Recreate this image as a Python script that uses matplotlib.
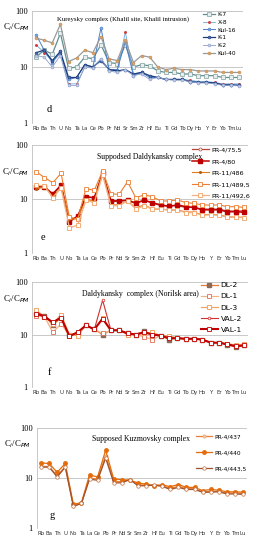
import numpy as np
import matplotlib
matplotlib.use('Agg')
import matplotlib.pyplot as plt

# element order along the x axis
elements = ['Rb', 'Ba', 'Th', 'U', 'Nb', 'Ta', 'La', 'Ce', 'Pb', 'Pr', 'Nd', 'Sr', 'Sm',
            'Zr', 'Hf', 'Eu', 'Ti', 'Gd', 'Tb', 'Dy', 'Ho', 'Y', 'Er', 'Yb', 'Tm', 'Lu']

# panel d - Kureysky complex
k7    = [15, 20, 17, 40, 9.5, 10, 15, 14, 25, 12, 11.5, 25, 10, 11, 10.5, 8.5, 8, 8, 7.5, 7.5, 7, 7, 7, 6.5, 6.5, 6.5]
k8    = [25, 18, 13, 19, 5, 5, 10, 10, 14, 9, 8.5, 42, 7.5, 8, 7, 6.5, 6, 6, 6, 5.8, 5.5, 5.5, 5.3, 5, 5, 5]
kul16 = [38, 20, 12, 18, 6, 6.5, 11, 10, 50, 9, 9, 28, 7, 8, 6.5, 6.5, 6, 6, 6, 5.5, 5.3, 5.3, 5.2, 4.8, 4.8, 4.7]
k1    = [18, 20, 13, 19, 6.5, 6.5, 11, 10, 13, 9, 8.5, 9, 7.5, 8, 7, 6.5, 6, 6, 6, 5.5, 5.3, 5.3, 5.2, 4.8, 4.8, 4.7]
k2    = [16, 15, 10, 16, 4.7, 4.7, 10, 9.5, 14, 8.5, 8, 9, 7, 7.5, 6, 6.5, 6, 5.8, 5.8, 5.5, 5.2, 5.2, 5, 4.7, 4.7, 4.6]
kul40 = [33, 30, 27, 58, 12.5, 14.5, 20, 18, 35, 14, 13, 30, 12, 16, 15, 10, 9, 9.5, 9, 9, 8.5, 8.5, 8.5, 8, 8, 8]

# panel e - supposed Daldykansky complex
pr4_755   = [17, 17, 12, 18, 4, 4.8, 11, 10.5, 30, 9, 9, 9.5, 8.5, 9.5, 8.5, 7.5, 7.5, 7.5, 7, 7, 6.5, 6.5, 6.5, 6, 6, 6]
pr4_80    = [17, 16.5, 12.5, 18, 3.8, 4.8, 11, 10.5, 30, 9.2, 9.3, 9.5, 8.3, 9.5, 8.5, 7.8, 7.3, 7.8, 7.2, 7, 6.3, 6.3, 6.3, 5.8, 5.8, 5.7]
pr11_486  = [15, 17, 11, 16.5, 4.2, 4.3, 10, 9, 30, 7.8, 7.8, 9.2, 6.8, 7.8, 6.5, 6.5, 6.3, 6.2, 5.8, 5.7, 5.1, 5.2, 5.1, 4.7, 4.6, 4.6]
pr11_4895 = [32, 25, 20, 30, 4.6, 4.3, 15.5, 14.5, 33, 12.5, 12.2, 21, 10.5, 12, 11, 9.2, 9.2, 9.6, 8.6, 8.3, 7.8, 7.7, 7.8, 7.2, 7.2, 7]
pr11_4926 = [18, 17.5, 10.5, 16, 2.9, 3.3, 9.5, 8.5, 28, 7.5, 7.5, 9.3, 6.5, 7.5, 6.5, 6.5, 6.2, 6.2, 5.6, 5.6, 5, 5.1, 5, 4.6, 4.6, 4.5]

# panel f - Daldykansky complex (Norilsk area)
dl2  = [25, 23, 15, 21, 9.8, 10.5, 15, 12.5, 10, 12, 12, 10.5, 10, 11.5, 10, 9.5, 8, 8.5, 8.2, 8.3, 8, 7, 7, 6.4, 5.8, 6.2]
dl1  = [23, 22, 11, 16, 9.5, 10.5, 15, 12.5, 10.5, 12, 12, 10.5, 10, 9, 8, 9.5, 8.5, 8.5, 8.3, 8.3, 8, 7, 7, 6.5, 6, 6.3]
dl3  = [29, 22, 16, 24, 10, 9.5, 15, 12.5, 21, 12, 12, 10, 10, 10.5, 11, 9.5, 9.5, 8.5, 8.3, 8.3, 8, 7, 7, 6.7, 6.3, 6.5]
val2 = [26, 23, 17, 21, 9.5, 11, 15, 12.5, 45, 12, 12, 10.5, 10, 11, 10, 9.5, 8.5, 8.5, 8.3, 8.3, 8, 7, 7, 6.5, 6, 6.2]
val1 = [25, 22, 17, 21, 9.3, 11, 15, 12.5, 20, 12, 12, 10.5, 10, 11, 10, 9.5, 8.5, 8.5, 8.3, 8.3, 8, 7, 7, 6.5, 6, 6.2]

# panel g - supposed Kuzmovsky complex
pr4_437  = [17, 17, 11, 17, 2.8, 3.1, 10, 9.5, 28, 8.5, 8.5, 9.3, 7.3, 7.2, 7.3, 7, 6.2, 6.8, 6.1, 6.1, 5.3, 5.4, 5.4, 5, 5, 4.9]
pr4_440  = [20, 19.5, 13, 19.5, 3, 3.2, 11.5, 10.5, 36, 9.5, 9.3, 9, 8, 7.5, 7, 7.3, 6.7, 7.4, 6.5, 6.5, 5.6, 5.9, 5.7, 5.3, 5.3, 5.2]
pr4_4435 = [16.5, 16.5, 10.5, 16.5, 2.7, 3.1, 9.5, 9, 25, 8, 8, 9.3, 7, 7, 7.2, 6.8, 5.9, 6.5, 5.9, 5.9, 5.2, 5.2, 5.3, 4.8, 4.8, 4.7]

serif = 'Liberation Serif'
x = np.arange(len(elements))

fig = plt.figure(figsize=(2.58, 5.5), dpi=100)


def setup(ax, title, tx, ty, letter, lx, ly, tsize=5.6):
    ax.set_yscale('log')
    ax.set_ylim(1, 100)
    ax.set_xlim(-0.5, 25.5)
    ax.set_yticks([1, 10, 100])
    ax.set_yticklabels(['1', '10', '100'], fontsize=6, family=serif)
    ax.yaxis.set_minor_locator(matplotlib.ticker.NullLocator())
    ax.set_xticks(x)
    ax.set_xticklabels(elements, fontsize=3.9, family='DejaVu Sans', color='#333333')
    ax.tick_params(length=0, pad=2.5)
    ax.tick_params(axis='y', pad=3)
    for s in ['top', 'right', 'bottom']:
        ax.spines[s].set_visible(False)
    ax.spines['left'].set_color('#bfbfbf')
    ax.spines['left'].set_linewidth(0.6)
    for v in [10, 100]:
        ax.axhline(v, color='#bfbfbf', lw=0.6, zorder=0)
    ax.text(tx, ty, title, transform=ax.transAxes, fontsize=tsize, family=serif, ha='left', va='center')
    ax.text(lx, ly, letter, transform=ax.transAxes, fontsize=7.5, family=serif, ha='left', va='center')


def ylab(px, py):
    fig.text(px / 258, 1 - py / 550, r'C$_i$/C$_{PM}$', fontsize=6.3, family=serif, ha='left', va='center')


# ---- panel d
ax = fig.add_axes([32 / 258, 1 - 123 / 550, 211 / 258, 112 / 550])
setup(ax, 'Kureysky complex (Khalil site, Khalil intrusion)', 0.12, 0.93, 'd', 0.07, 0.12, tsize=4.9)
ax.plot(x, k7, color='#5f8f90', marker='s', ms=2.4, mfc='#e8eeee', mec='#7f9f9f', mew=0.5, lw=0.9, label='K-7')
ax.plot(x, k8, color='#6fa8dc', marker='.', ms=2.3, mfc='#d04040', mec='#d04040', lw=0.6, label='X-8')
ax.plot(x, kul16, color='#4a7fc8', marker='o', ms=2.1, mfc='#7ea6e0', mec='#4a7fc8', mew=0.4, lw=0.7, label='Kul-16')
ax.plot(x, k1, color='#1f3b78', marker='o', ms=2.1, mfc='#4c6eb5', mec='#1f3b78', mew=0.4, lw=0.9, label='K-1')
ax.plot(x, k2, color='#8a9fc9', marker='o', ms=2.1, mfc='#c3cbe9', mec='#8a9fc9', mew=0.4, lw=0.6, label='K-2')
ax.plot(x, kul40, color='#9a9a9a', marker='o', ms=2.1, mfc='#d9a36a', mec='#c58d55', mew=0.4, lw=0.9, label='Kul-40')
ax.legend(loc='upper left', bbox_to_anchor=(203 / 258, 1 - 12 / 550), bbox_transform=fig.transFigure,
          frameon=False, fontsize=4.2, handlelength=2.0, handletextpad=0.5, labelspacing=0.45,
          borderaxespad=0, borderpad=0)
ylab(3, 27)

# ---- panel e
ax = fig.add_axes([32 / 258, 1 - 253 / 550, 216 / 258, 108 / 550])
setup(ax, 'Suppodsed Daldykansky complex', 0.30, 0.89, 'e', 0.04, 0.14)
ax.plot(x, pr4_755, color='#b5473a', marker='o', ms=2.2, mfc='white', mec='#b5473a', mew=0.5, lw=0.9, label='PR-4/75,5')
ax.plot(x, pr4_80, color='#c00000', marker='s', ms=2.5, mfc='#c00000', mec='#c00000', lw=1.1, label='PR-4/80')
ax.plot(x, pr11_486, color='#e07b1a', marker='.', ms=2.4, mfc='#b06010', mec='#b06010', lw=0.8, label='PR-11/486')
ax.plot(x, pr11_4895, color='#ed7d31', marker='s', ms=3.0, mfc='white', mec='#ed7d31', mew=0.6, lw=0.8, label='PR-11/489,5')
ax.plot(x, pr11_4926, color='#f4b183', marker='s', ms=2.8, mfc='white', mec='#f4a060', mew=0.6, lw=0.9, label='PR-11/492,6')
ax.legend(loc='upper left', bbox_to_anchor=(192 / 258, 1 - 147 / 550), bbox_transform=fig.transFigure,
          frameon=False, fontsize=4.6, handlelength=2.6, handletextpad=0.4, labelspacing=0.95,
          borderaxespad=0, borderpad=0)
ylab(2, 172)

# ---- panel f
ax = fig.add_axes([32 / 258, 1 - 387 / 550, 216 / 258, 105 / 550])
setup(ax, 'Daldykansky  complex (Norilsk area)', 0.23, 0.89, 'f', 0.075, 0.14)
ax.plot(x, dl2, color='#ed7d31', marker='s', ms=2.6, mfc='#8b6a5a', mec='#8b6a5a', lw=0.9, label='DL-2')
ax.plot(x, dl1, color='#f4b183', marker='s', ms=2.4, mfc='white', mec='#e06a50', mew=0.6, lw=0.9, label='DL-1')
ax.plot(x, dl3, color='#f4a460', marker='s', ms=3.4, mfc='white', mec='#f4a460', mew=0.7, lw=0.9, label='DL-3')
ax.plot(x, val2, color='#d03030', marker='o', ms=1.9, mfc='white', mec='#d03030', mew=0.5, lw=0.8, label='VAL-2')
ax.plot(x, val1, color='#c00000', marker='s', ms=3.0, mfc='white', mec='#c00000', mew=0.6, lw=1.5, label='VAL-1')
ax.legend(loc='upper left', bbox_to_anchor=(201 / 258, 1 - 282 / 550), bbox_transform=fig.transFigure,
          frameon=False, fontsize=5.4, handlelength=2.2, handletextpad=0.4, labelspacing=0.65,
          borderaxespad=0, borderpad=0)
ylab(3, 299)

# ---- panel g
ax = fig.add_axes([37 / 258, 1 - 528 / 550, 210 / 258, 100 / 550])
setup(ax, 'Supposed Kuzmovsky complex', 0.26, 0.89, 'g', 0.06, 0.13)
ax.plot(x, pr4_437, color='#ed7d31', marker='o', ms=2.3, mfc='#f8cbad', mec='#f4a060', mew=0.5, lw=0.9, label='PR-4/437')
ax.plot(x, pr4_440, color='#e46c0a', marker='o', ms=2.5, mfc='#e46c0a', mec='#e46c0a', lw=0.9, label='PR-4/440')
ax.plot(x, pr4_4435, color='#a0522d', marker='o', ms=2.5, mfc='white', mec='#c07040', mew=0.5, lw=0.9, label='PR-4/443,5')
ax.legend(loc='upper left', bbox_to_anchor=(196 / 258, 1 - 434 / 550), bbox_transform=fig.transFigure,
          frameon=False, fontsize=4.2, handlelength=2.8, handletextpad=0.4, labelspacing=1.9,
          borderaxespad=0, borderpad=0)
ylab(4, 444)

fig.savefig('out.png', dpi=100)
